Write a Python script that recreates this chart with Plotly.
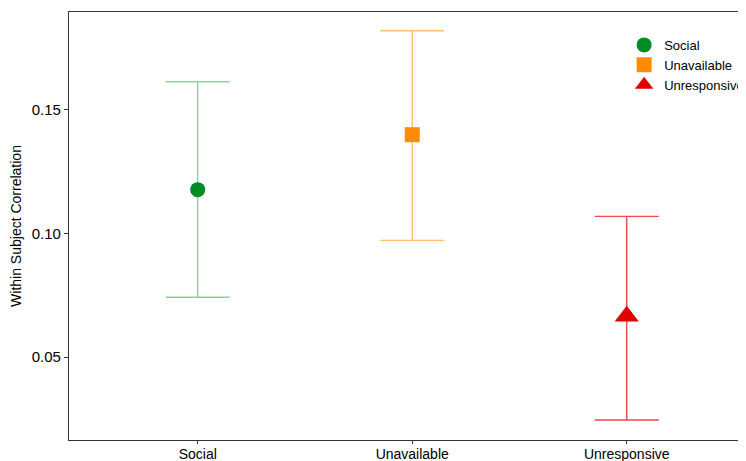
import plotly.graph_objects as go

categories = ["Social", "Unavailable", "Unresponsive"]
estimates = [0.1177, 0.1399, 0.0665]
upper = [0.1613, 0.1819, 0.1069]
lower = [0.0742, 0.0972, 0.0246]
y_ticks = [0.05, 0.10, 0.15]
y_tick_labels = ["0.05", "0.10", "0.15"]

point_colors = ["#008B23", "#FF8C00", "#E00000"]
bar_colors = ["#8FD19E", "#FFBE6A", "#EE4848"]
symbols = ["circle", "square", "triangle-up"]
sizes = [15, 15, 21]

fig = go.Figure()
for i, cat in enumerate(categories):
    fig.add_trace(go.Scatter(
        x=[i + 1], y=[estimates[i]], mode="markers", name=cat,
        marker=dict(color=point_colors[i], symbol=symbols[i], size=sizes[i]),
        error_y=dict(type="data", symmetric=False,
                     array=[upper[i] - estimates[i]],
                     arrayminus=[estimates[i] - lower[i]],
                     color=bar_colors[i], thickness=1.4, width=32),
    ))

fig.update_layout(
    width=738, height=453,
    margin=dict(l=61, r=0, t=4, b=21, autoexpand=False),
    paper_bgcolor="white", plot_bgcolor="white",
    font=dict(family="Liberation Sans, Arial, sans-serif", color="black"),
    showlegend=True,
    legend=dict(x=0.820, y=0.958, xanchor="left", yanchor="top",
                font=dict(size=13, color="black"), bgcolor="rgba(0,0,0,0)",
                itemsizing="trace", tracegroupgap=0, itemwidth=30),
    xaxis=dict(range=[0.4, 3.556], tickvals=[1, 2, 3], ticktext=categories,
               automargin=False,
               showgrid=False, zeroline=False, showline=True, linecolor="#333333",
               linewidth=1.2, mirror=True, ticks="outside", ticklen=3,
               ticklabelstandoff=-2,
               tickcolor="#333333", tickfont=dict(size=14, color="black")),
    yaxis=dict(range=[0.0165, 0.1895], tickvals=y_ticks, ticktext=y_tick_labels,
               automargin=False,
               showgrid=False, zeroline=False, showline=True, linecolor="#333333",
               linewidth=1.2, ticks="outside", ticklen=4, tickcolor="#333333",
               tickfont=dict(size=15, color="black"),
               title=dict(text="Within Subject Correlation", font=dict(size=14, color="black"),
                          standoff=6)),
)

fig.write_html("out.html")
